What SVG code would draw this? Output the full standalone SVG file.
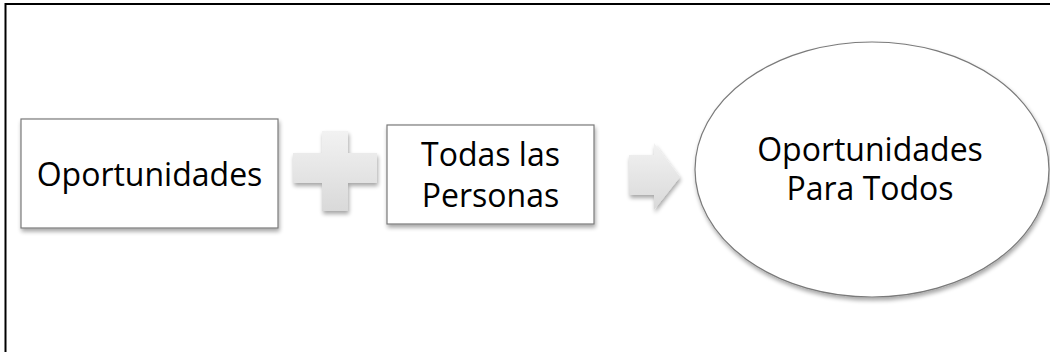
<svg xmlns="http://www.w3.org/2000/svg" width="1050" height="352" viewBox="0 0 1050 352">
  <style>
    .box { fill: #ffffff; stroke: #7a7a7a; stroke-width: 1.2; }
    .lbl { font-family: "Open Sans", "Liberation Sans", sans-serif; font-size: 32px; fill: #000000; text-anchor: middle; }
    .sym { fill: url(#symGrad); }
  </style>
  <defs>
    <filter id="shadow" x="-10%" y="-10%" width="130%" height="140%">
      <feGaussianBlur in="SourceAlpha" stdDeviation="2"/>
      <feOffset dx="1" dy="3" result="b"/>
      <feComponentTransfer><feFuncA type="linear" slope="0.35"/></feComponentTransfer>
      <feMerge><feMergeNode/><feMergeNode in="SourceGraphic"/></feMerge>
    </filter>
    <linearGradient id="symGrad" x1="0" y1="0" x2="0" y2="1">
      <stop offset="0" stop-color="#f2f2f2"/>
      <stop offset="1" stop-color="#d9d9d9"/>
    </linearGradient>
  </defs>
  <rect x="0" y="0" width="1050" height="352" fill="#ffffff"/>
  <rect x="5.5" y="4" width="1100" height="400" fill="none" stroke="#000000" stroke-width="2"/>

  <g id="node-oportunidades">
    <rect class="box" x="21" y="119" width="257" height="109" filter="url(#shadow)"/>
    <text class="lbl" x="149.5" y="186">Oportunidades</text>
  </g>

  <g id="node-personas">
    <rect class="box" x="387" y="125" width="207" height="99" filter="url(#shadow)"/>
    <text class="lbl" x="490.5" y="166">Todas las</text>
    <text class="lbl" x="490.5" y="207">Personas</text>
  </g>

  <g id="node-resultado">
    <ellipse class="box" cx="872" cy="169.5" rx="177" ry="127.5" filter="url(#shadow)"/>
    <text class="lbl" x="870" y="161">Oportunidades</text>
    <text class="lbl" x="870" y="200">Para Todos</text>
  </g>

  <g id="connectors">
    <path class="sym" filter="url(#shadow)" d="M322,131 H348 V153 H377 V183 H348 V211 H322 V183 H293 V153 H322 Z"/>
    <path class="sym" filter="url(#shadow)" d="M629,155 H654 V143 L680,177 L654,210 V195 H629 Z"/>
  </g>
</svg>
